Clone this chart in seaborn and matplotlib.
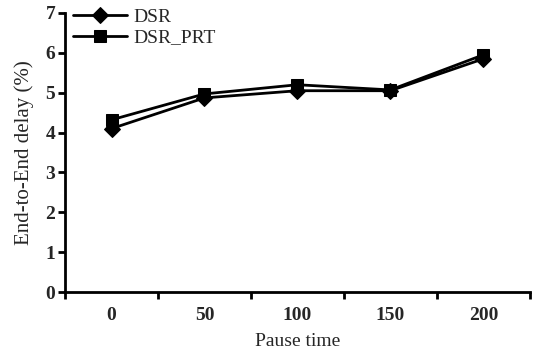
import numpy as np
import pandas as pd
import matplotlib
matplotlib.use("Agg")
import matplotlib.pyplot as plt
from matplotlib.ticker import FixedLocator, NullFormatter
import seaborn as sns

# data
pause_time = ["0", "50", "100", "150", "200"]
dsr = [4.10, 4.87, 5.05, 5.05, 5.85]
dsr_prt = [4.32, 4.97, 5.20, 5.07, 5.95]

sns.set_theme(style="white")
plt.rcParams["font.family"] = ["Liberation Serif", "DejaVu Serif"]

pos = np.arange(len(pause_time))
df = pd.DataFrame({
    "pos": np.concatenate([pos, pos]),
    "delay": dsr + dsr_prt,
    "series": ["DSR"] * len(dsr) + ["DSR_PRT"] * len(dsr_prt),
})

fig = plt.figure(figsize=(5.33, 3.51), dpi=100)
ax = fig.add_axes([0.122, 0.168, 0.872, 0.795])

sns.lineplot(data=df, x="pos", y="delay", hue="series", style="series",
             markers={"DSR": "D", "DSR_PRT": "s"}, dashes=False,
             palette={"DSR": "black", "DSR_PRT": "black"},
             linewidth=2, markersize=8, markeredgecolor="black", ax=ax)

ax.set_xlim(-0.5, len(pause_time) - 0.5)
ax.set_ylim(0, 7)
ax.set_yticks(range(0, 8))
ax.xaxis.set_major_locator(FixedLocator(np.arange(-0.5, len(pause_time), 1.0)))
ax.xaxis.set_major_formatter(NullFormatter())
ax.set_xticks(pos, minor=True)
ax.set_xticklabels(pause_time, minor=True)
ax.tick_params(axis="x", which="major", direction="out", length=5, width=2,
               bottom=True, color="black")
ax.tick_params(axis="x", which="minor", length=0, pad=11, labelsize=14)
ax.tick_params(axis="y", direction="out", length=5, width=2, left=True,
               labelsize=14, pad=2, color="black")
for lab in ax.get_xticklabels(minor=True) + ax.get_yticklabels():
    lab.set_fontweight("bold")

for s in ["top", "right"]:
    ax.spines[s].set_visible(False)
for s in ["left", "bottom"]:
    ax.spines[s].set_linewidth(2)
    ax.spines[s].set_color("black")

ax.set_xlabel("Pause time", fontsize=14, labelpad=6)
ax.set_ylabel("End-to-End delay (%)", fontsize=15, labelpad=8)

ax.legend(loc="upper left", frameon=False, fontsize=14, handlelength=2.8,
          borderaxespad=0, bbox_to_anchor=(0.0, 1.045), labelspacing=0.15,
          handletextpad=0.3, title=None)

fig.savefig("out.png", dpi=100)
